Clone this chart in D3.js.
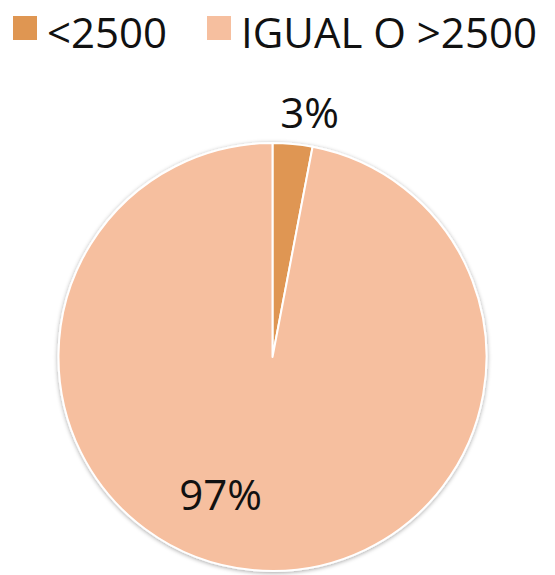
<!DOCTYPE html>
<html>
<head>
<meta charset="utf-8">
<script src="https://cdn.jsdelivr.net/npm/d3@7"></script>
<style>
  html, body { margin: 0; padding: 0; background: #fff; }
  svg { display: block; }
  text { font-family: "Open Sans", "Liberation Sans", sans-serif; fill: #111; }
</style>
</head>
<body>
<svg id="chart"></svg>
<script>
// Data
const categories = ["<2500", "IGUAL O >2500"];
const values = [3, 97];
const labels = ["3%", "97%"];
const colors = ["#DF9652", "#F6BF9F"];

const width = 555;
const height = 575;
const cx = 272.5;
const cy = 357;
const radius = 214;
const fontSize = 42;

const svg = d3
  .select("svg#chart")
  .attr("width", width)
  .attr("height", height);

// soft shadow round the pie
const defs = svg.append("defs");
const shadow = defs
  .append("filter")
  .attr("id", "shadow")
  .attr("x", "-10%")
  .attr("y", "-10%")
  .attr("width", "120%")
  .attr("height", "120%");
shadow
  .append("feDropShadow")
  .attr("dx", 0)
  .attr("dy", 1)
  .attr("stdDeviation", 2)
  .attr("flood-color", "#000")
  .attr("flood-opacity", 0.35);

// Legend
const legendX = [13, 207];
const legend = svg
  .selectAll("g.legend")
  .data(categories)
  .join("g")
  .attr("class", "legend")
  .attr("transform", (d, i) => `translate(${legendX[i]}, 16)`);

legend
  .append("rect")
  .attr("width", 24)
  .attr("height", 24)
  .style("fill", (d, i) => colors[i]);

legend
  .append("text")
  .attr("x", 34)
  .attr("y", 32)
  .style("font-size", fontSize + "px")
  .text((d) => d);

// Pie
const pie = d3.pie().sort(null).value((d) => d);
const arcs = pie(values);
const arc = d3.arc().innerRadius(0).outerRadius(radius);

const g = svg.append("g").attr("transform", `translate(${cx}, ${cy})`);

g.append("g")
  .attr("filter", "url(#shadow)")
  .selectAll("path")
  .data(arcs)
  .join("path")
  .attr("d", arc)
  .style("fill", (d, i) => colors[i])
  .style("stroke", "#fff")
  .style("stroke-width", 2)
  .style("stroke-linejoin", "round");

// Labels (best-fit placement: radius and angle shift per slice)
const labelRadius = [248, 146];
const labelShift = [0.056, 0.27];
g.selectAll("text.label")
  .data(arcs)
  .join("text")
  .attr("class", "label")
  .attr("text-anchor", "middle")
  .attr("dominant-baseline", "central")
  .style("font-size", fontSize + "px")
  .attr("x", (d, i) => {
    const a = (d.startAngle + d.endAngle) / 2 + labelShift[i];
    return labelRadius[i] * Math.sin(a);
  })
  .attr("y", (d, i) => {
    const a = (d.startAngle + d.endAngle) / 2 + labelShift[i];
    return -labelRadius[i] * Math.cos(a);
  })
  .text((d, i) => labels[i]);
</script>
</body>
</html>
